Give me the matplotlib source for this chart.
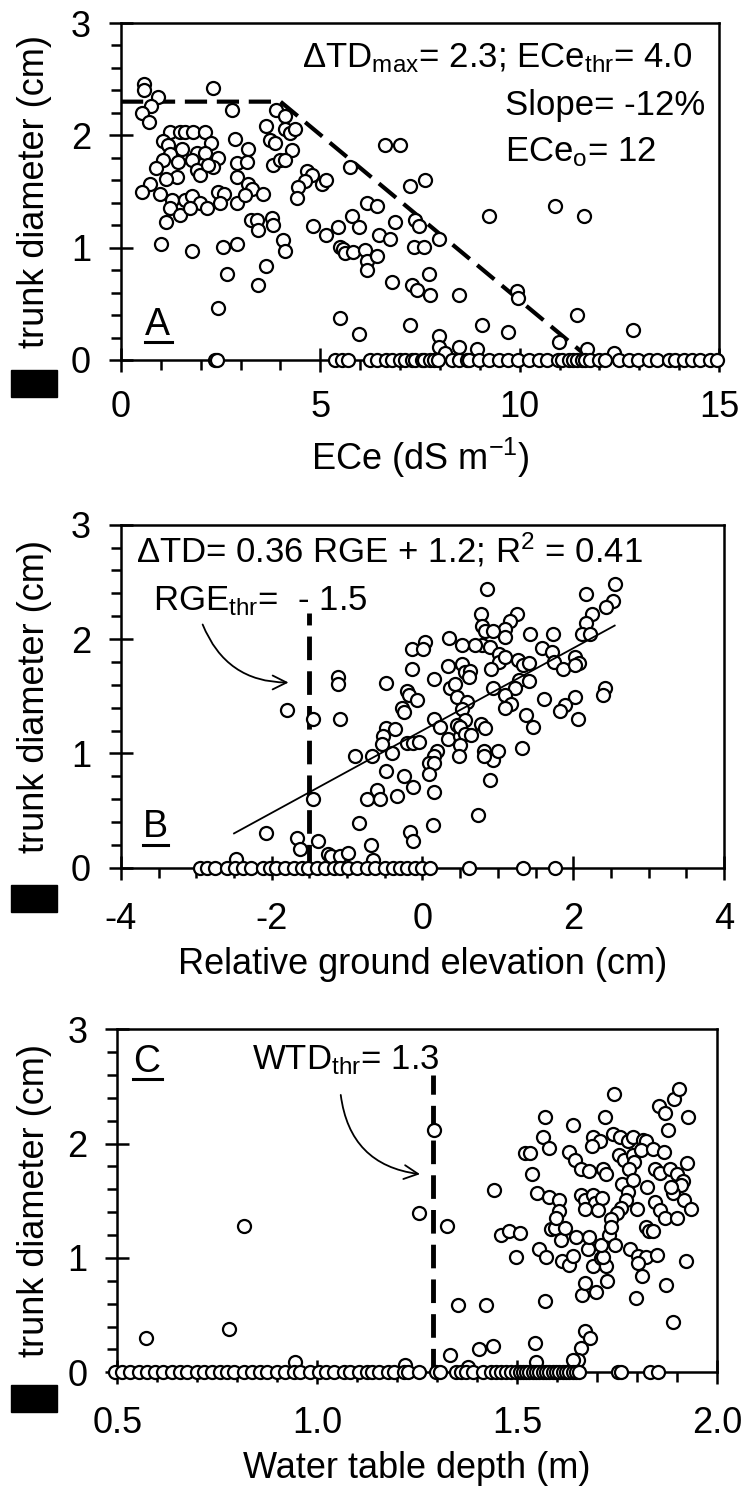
import matplotlib
matplotlib.use("Agg")
import matplotlib.pyplot as plt
from matplotlib.patches import Rectangle
from matplotlib.lines import Line2D
from matplotlib.ticker import MultipleLocator, FormatStrFormatter

plt.rcParams['font.family'] = ['Liberation Sans', 'DejaVu Sans']
plt.rcParams['mathtext.fontset'] = 'custom'
plt.rcParams['mathtext.rm'] = 'Liberation Sans'
plt.rcParams['mathtext.it'] = 'Liberation Sans:italic'
plt.rcParams['lines.scale_dashes'] = False
plt.rcParams['axes.unicode_minus'] = False

# ---- panel A: trunk diameter vs ECe ----
a_ece = [0.58, 0.58, 0.94, 0.75, 0.52, 0.70, 2.32, 2.79, 1.23, 1.48, 1.61, 1.80, 2.12,
         1.06, 1.19, 1.52, 2.25, 2.86, 3.19, 1.90, 2.11, 1.24, 1.06, 1.44, 1.77, 2.44,
         2.90, 3.15, 0.88, 1.90, 1.98, 2.32, 2.19, 1.40, 1.12, 2.90, 3.19, 3.28, 0.73, 0.52,
         0.98, 1.27, 1.23, 1.48, 1.61, 1.77, 1.97, 2.15, 1.73, 2.44, 2.58, 2.48, 2.92, 3.11,
         3.57, 1.12, 3.25, 3.40, 3.44, 3.78, 3.82, 4.06, 4.11, 1.00, 1.77, 2.55, 2.92, 2.67,
         3.63, 3.44, 2.44, 3.64, 3.74, 3.86, 3.90, 4.11, 4.11, 4.24, 4.36, 4.28, 3.82, 3.99,
         4.11, 4.66, 4.78, 4.61, 5.03, 5.14, 4.45, 4.41, 5.74, 4.82, 5.14, 5.45, 5.79, 5.97,
         6.16, 5.49, 5.58, 5.62, 5.83, 6.12, 6.16, 6.16, 5.49, 5.97, 6.63, 7.01, 7.63, 7.26,
         6.42, 6.88, 6.46, 6.76, 7.38, 7.47, 7.34, 7.59, 7.97, 6.42, 7.72, 6.80, 7.30, 7.42,
         7.76, 8.49, 9.22, 10.89, 11.62, 9.93, 9.97, 7.26, 9.05, 9.70, 11.45, 12.84, 7.97,
         7.97, 8.13, 8.49, 8.93, 10.98, 11.69, 12.36]
a_td = [2.46, 2.40, 2.34, 2.26, 2.20, 2.12, 2.42, 2.23, 2.03, 2.03, 2.03, 2.03, 2.03,
        1.95, 1.91, 1.88, 1.93, 1.97, 1.88, 1.84, 1.84, 1.83, 1.78, 1.76, 1.78, 1.80,
        1.75, 1.76, 1.71, 1.69, 1.65, 1.72, 1.74, 1.63, 1.61, 1.63, 1.57, 1.52, 1.57, 1.50,
        1.48, 1.42, 1.35, 1.29, 1.42, 1.46, 1.40, 1.35, 1.35, 1.50, 1.48, 1.40, 1.40, 1.47,
        1.48, 1.23, 1.25, 1.25, 1.16, 1.26, 1.20, 1.07, 0.97, 1.03, 0.97, 1.01, 1.03, 0.77,
        0.84, 0.67, 0.46, 2.08, 1.96, 1.93, 2.23, 2.17, 2.06, 2.02, 2.06, 1.87, 1.74, 1.78,
        1.78, 1.68, 1.65, 1.59, 1.57, 1.60, 1.54, 1.44, 1.72, 1.19, 1.11, 1.18, 1.28, 1.18,
        1.40, 1.01, 0.99, 0.95, 0.96, 0.98, 0.88, 0.80, 0.37, 0.23, 1.91, 1.91, 1.60, 1.55,
        1.37, 1.23, 1.11, 1.08, 1.25, 1.19, 1.01, 1.01, 1.08, 0.93, 0.77, 0.69, 0.67, 0.62,
        0.58, 0.58, 1.28, 1.37, 1.28, 0.61, 0.55, 0.31, 0.31, 0.25, 0.40, 0.27, 0.21,
        0.12, 0.06, 0.12, 0.10, 0.16, 0.10, 0.06]
a_ece_dead = [2.36, 2.42, 5.37, 5.54, 5.70, 6.25, 6.41, 6.66, 6.80, 7.00, 7.13, 7.29, 7.38,
              7.54, 7.59, 7.75, 7.84, 7.95, 8.30, 8.47, 8.67, 8.72, 8.97, 9.22, 9.47, 9.72,
              9.97, 10.23, 10.48, 10.68, 10.95, 11.06, 11.23, 11.35, 11.44, 11.56, 11.65,
              11.77, 11.98, 12.15, 12.48, 12.73, 12.98, 13.24, 13.44, 13.75, 13.90, 14.11,
              14.32, 14.52, 14.78, 14.95]
a_model_x = [0, 4.0, 11.8]
a_model_y = [2.3, 2.3, 0]

# ---- panel B: trunk diameter vs relative ground elevation ----
b_rge = [-1.80, -1.45, -1.10, -1.12, -1.12, -0.90, -1.45, -0.74, -0.84, -2.08, -1.67, -1.63,
         -1.38, -1.25, -1.21, -1.10, -0.99, -0.68, -2.47, -0.65,
         0.85, 2.56, 2.17, 2.53, 2.44, 2.25, 2.17, 2.11, 2.22, 0.78, 1.25, 1.16, 1.09, 1.09,
         0.79, 0.83, 0.94, 0.79, 0.70, 0.90, 1.01, 1.01, 1.10, 0.91, 1.42, 1.73, 1.58, 1.72,
         1.74, 1.86, 0.35, 0.52, 0.04, -0.14, 0.01, -0.14, 1.27, 1.34, 1.41, 1.28, 1.41, 1.23,
         1.10, 1.17, 1.10, 2.03, 2.07, 2.02, 0.94, 1.61, 2.02, 1.89, 1.83, 2.06, 2.42, 2.40,
         1.38, 1.47, 1.32, 0.34, 0.52, 0.57, 0.63, 0.62, 0.15, -0.49, 0.37, 0.43, 0.46, 0.59,
         0.52, -0.21, -0.18, -0.07, -0.27, -0.25, 0.15, 0.23, 0.34, 0.50, 0.57, 0.46, 0.50,
         0.56, 0.65, 0.50, 0.49, 0.77, 0.83, 0.81, 0.94, 1.00, 0.90, 0.81, -0.49, -0.36, -0.52,
         -0.54, -0.40, -0.67, -0.21, -0.12, -0.05, 0.19, 0.15, 0.08, 0.15, 0.08, 0.15, -0.49,
         -0.24, -0.12, -0.60, -0.56, -0.34, 0.74, 0.14, -0.16, -0.12]
b_td = [1.38, 1.30, 1.30, 1.67, 1.61, 0.98, 0.60, 0.60, 0.39, 0.30, 0.26, 0.16,
        0.23, 0.12, 0.10, 0.10, 0.13, 0.20, 0.08, 0.07,
        2.44, 2.48, 2.39, 2.33, 2.28, 2.22, 2.14, 2.04, 2.04, 2.22, 2.22, 2.16, 2.09, 2.02,
        2.11, 2.07, 2.07, 1.95, 1.95, 1.93, 1.87, 1.80, 1.84, 1.74, 2.04, 2.04, 1.92, 1.89,
        1.80, 1.74, 2.01, 1.95, 1.97, 1.91, 1.91, 1.74, 1.82, 1.77, 1.79, 1.64, 1.63, 1.57,
        1.51, 1.43, 1.40, 1.84, 1.79, 1.77, 1.57, 1.48, 1.49, 1.42, 1.37, 1.30, 1.57, 1.51,
        1.34, 1.23, 1.05, 1.76, 1.78, 1.71, 1.72, 1.67, 1.65, 1.62, 1.57, 1.61, 1.49, 1.45,
        1.39, 1.55, 1.51, 1.47, 1.40, 1.36, 1.30, 1.23, 1.13, 1.15, 1.29, 1.25, 1.23,
        1.17, 1.16, 1.07, 0.98, 1.26, 1.22, 1.02, 0.94, 1.02, 0.77, 0.98, 1.22, 1.21, 1.15,
        1.08, 1.00, 0.98, 1.09, 1.09, 1.10, 1.02, 0.98, 0.92, 0.92, 0.82, 0.66, 0.85,
        0.80, 0.71, 0.68, 0.60, 0.63, 0.46, 0.37, 0.31, 0.23]
b_rge_dead = [-2.95, -2.86, -2.75, -2.60, -2.49, -2.38, -2.27, -2.11, -2.02, -1.94, -1.82,
              -1.71, -1.60, -1.52, -1.40, -1.29, -1.18, -1.10, -0.99, -0.87, -0.74, -0.63,
              -0.50, -0.39, -0.30, -0.21, -0.10, -0.01, 0.10, 0.62, 1.33, 1.76]
b_fit_x = [-2.5, 2.55]
b_slope, b_icpt = 0.36, 1.2
b_thr = -1.5

# ---- panel C: trunk diameter vs water table depth ----
c_wtd = [0.572, 0.780, 0.818, 0.945, 1.291, 1.255, 1.324, 1.443, 1.351, 1.422, 1.333, 1.404,
         1.440, 1.219, 1.376, 1.544, 1.548, 1.569, 1.670, 1.683, 1.660, 1.652, 1.640, 1.889,
         1.797, 1.873, 1.813, 1.922, 1.663, 1.698, 1.670, 1.725, 1.498, 1.554, 1.573, 1.613,
         1.631, 1.640, 1.690, 1.709, 1.723, 1.715, 1.677, 1.648, 1.681, 1.710, 1.731, 1.744,
         1.783, 1.803, 1.822, 1.850, 1.803, 1.460, 1.479, 1.508, 1.585, 1.596, 1.610, 1.621,
         1.823, 1.830, 1.840, 1.550, 1.579, 1.604, 1.604, 1.598, 1.538, 1.519, 1.533, 1.564,
         1.581, 1.569, 1.640, 1.629, 1.644, 1.660, 1.681, 1.715, 1.723, 1.742, 1.719, 1.690,
         1.707, 1.688, 1.740, 1.757, 1.777, 1.790, 1.815, 1.823, 1.756, 1.767, 1.790, 1.792,
         1.780, 1.811, 1.840, 1.867, 1.855, 1.869, 1.893, 1.905, 1.877, 1.928, 1.924, 1.844,
         1.858, 1.882, 1.899, 1.915, 1.911, 1.763, 1.790, 1.777, 1.773, 1.761, 1.825, 1.660,
         1.671, 1.690, 1.694, 1.713, 1.669, 1.702, 1.749, 1.736, 1.734, 1.801, 1.844, 1.857,
         1.869, 1.899, 1.917, 1.936, 1.890, 1.886]
c_td = [0.30, 0.38, 1.28, 0.09, 2.12, 1.39, 1.28, 1.59, 0.59, 0.59, 0.15, 0.20,
        0.23, 0.06, 0.05, 0.26, 0.09, 0.62, 0.36, 0.30, 0.21, 0.11, 0.11, 0.44,
        0.65, 0.76, 0.84, 0.97, 0.68, 0.70, 0.78, 0.80, 1.01, 1.08, 1.01, 0.97,
        0.94, 1.02, 0.93, 1.00, 0.93, 1.01, 1.08, 1.18, 1.18, 1.11, 1.20, 1.11,
        1.08, 1.02, 1.01, 1.03, 0.96, 1.20, 1.24, 1.22, 1.25, 1.26, 1.16, 1.26,
        1.27, 1.24, 1.24, 1.57, 1.53, 1.51, 1.41, 1.35, 1.73, 1.92, 1.92, 2.06,
        1.96, 2.23, 2.16, 1.93, 1.86, 1.78, 1.76, 1.78, 1.73, 2.43, 2.23, 2.06,
        2.02, 1.98, 2.08, 2.06, 2.02, 2.06, 2.03, 2.02, 1.90, 1.86, 1.90, 1.84,
        1.78, 1.94, 1.95, 1.93, 2.33, 2.27, 2.39, 2.48, 2.12, 2.23, 1.83, 1.78,
        1.74, 1.78, 1.73, 1.67, 1.64, 1.65, 1.68, 1.58, 1.51, 1.44, 1.62, 1.55,
        1.51, 1.55, 1.48, 1.52, 1.43, 1.42, 1.39, 1.34, 1.27, 1.43, 1.49, 1.42,
        1.35, 1.35, 1.51, 1.43, 1.57, 1.62]
c_wtd_dead = [0.494, 0.511, 0.532, 0.553, 0.574, 0.594, 0.615, 0.636, 0.657, 0.674, 0.699,
              0.716, 0.737, 0.757, 0.774, 0.791, 0.816, 0.837, 0.858, 0.874, 0.900, 0.920,
              0.941, 0.958, 0.983, 1.004, 1.021, 1.041, 1.066, 1.083, 1.104, 1.125, 1.138,
              1.155, 1.176, 1.193, 1.218, 1.226, 1.255, 1.297, 1.306, 1.347, 1.360, 1.372,
              1.389, 1.414, 1.435, 1.447, 1.460, 1.472, 1.485, 1.497, 1.506, 1.514, 1.523,
              1.531, 1.539, 1.548, 1.556, 1.564, 1.573, 1.581, 1.589, 1.598, 1.606, 1.614,
              1.623, 1.631, 1.639, 1.648, 1.656, 1.752, 1.761, 1.832, 1.853]
c_thr = 1.29

FS_TICK = 26
FS_LAB = 26
FS_TXT = 25
LW = 1.8
MS = 88


def style(ax, xlim, xmaj, xmin, xpad):
    ax.set_xlim(*xlim)
    ax.set_ylim(0, 3)
    ax.xaxis.set_major_locator(MultipleLocator(xmaj))
    ax.xaxis.set_minor_locator(MultipleLocator(xmin))
    ax.yaxis.set_major_locator(MultipleLocator(1))
    ax.yaxis.set_minor_locator(MultipleLocator(0.2))
    ax.tick_params(which='major', direction='inout', length=17, width=LW,
                   labelsize=FS_TICK, color='black')
    ax.tick_params(which='minor', direction='out', length=7, width=LW)
    ax.tick_params(axis='x', which='major', pad=xpad)
    ax.tick_params(axis='y', which='major', pad=13)
    for s in ax.spines.values():
        s.set_linewidth(LW)
        s.set_zorder(1)


def dots(ax, x, y):
    ax.scatter(x, y, s=MS, facecolors='white', edgecolors='black',
               linewidths=1.6, zorder=4, clip_on=False)


def panel_letter(ax, letter, x, y, x0, x1, yu):
    ax.text(x, y, letter, transform=ax.transAxes, fontsize=27, ha='left', va='baseline')
    ax.add_line(Line2D([x0, x1], [yu, yu], transform=ax.transAxes, color='black', lw=2.2))


fig = plt.figure(figsize=(7.44, 14.95), dpi=100)

# panel A
axA = fig.add_axes([0.1626, 0.7592, 0.8038, 0.2254])
style(axA, (0, 15), 5, 1, 13)
axA.plot(a_model_x, a_model_y, color='black', lw=3, dashes=(16, 7), zorder=2)
dots(axA, a_ece, a_td)
dots(axA, a_ece_dead, [0] * len(a_ece_dead))
axA.text(4.55, 2.69, 'ΔTD$_\\mathrm{max}$= 2.3; ECe$_\\mathrm{thr}$= 4.0', fontsize=FS_TXT, va='center')
axA.text(9.62, 2.27, 'Slope= -12%', fontsize=FS_TXT, va='center')
axA.text(9.62, 1.85, 'ECe$_\\mathrm{o}$= 12', fontsize=FS_TXT, va='center')
panel_letter(axA, 'A', 0.04, 0.074, 0.04, 0.085, 0.054)
axA.set_xlabel('ECe (dS m$^{-1}$)', fontsize=FS_LAB)
axA.xaxis.set_label_coords(0.5, -0.225)
axA.set_ylabel('trunk diameter (cm)', fontsize=FS_LAB)
axA.yaxis.set_label_coords(-0.115, 0.5)

# panel B
axB = fig.add_axes([0.1626, 0.4196, 0.8105, 0.2294])
style(axB, (-4, 4), 2, 0.5, 16)
axB.plot([b_thr, b_thr], [0, 2.23], color='black', lw=3.5, dashes=(17, 8), zorder=2)
axB.plot(b_fit_x, [b_slope * v + b_icpt for v in b_fit_x], color='black', lw=1.3, zorder=5)
dots(axB, b_rge, b_td)
dots(axB, b_rge_dead, [0] * len(b_rge_dead))
axB.text(-3.80, 2.78, 'ΔTD= 0.36 RGE + 1.2; R$^2$ = 0.41', fontsize=FS_TXT, va='center')
axB.text(-3.58, 2.33, 'RGE$_\\mathrm{thr}$=  - 1.5', fontsize=FS_TXT, va='center')
axB.annotate('', xy=(-1.74, 1.62), xytext=(-2.93, 2.15),
             arrowprops=dict(arrowstyle='->', lw=1.3, color='black',
                             connectionstyle='arc3,rad=0.35', mutation_scale=25))
panel_letter(axB, 'B', 0.036, 0.09, 0.036, 0.078, 0.066)
axB.set_xlabel('Relative ground elevation (cm)', fontsize=FS_LAB)
axB.xaxis.set_label_coords(0.5, -0.23)
axB.set_ylabel('trunk diameter (cm)', fontsize=FS_LAB)
axB.yaxis.set_label_coords(-0.114, 0.5)

# panel C
axC = fig.add_axes([0.1577, 0.0821, 0.806, 0.2294])
style(axC, (0.5, 2.0), 0.5, 0.1, 16)
axC.xaxis.set_major_formatter(FormatStrFormatter('%.1f'))
axC.plot([c_thr, c_thr], [0, 2.6], color='black', lw=3.5, dashes=(17, 8), zorder=2)
dots(axC, c_wtd, c_td)
dots(axC, c_wtd_dead, [0] * len(c_wtd_dead))
axC.text(0.837, 2.73, 'WTD$_\\mathrm{thr}$= 1.3', fontsize=FS_TXT, va='center')
axC.annotate('', xy=(1.264, 1.73), xytext=(1.058, 2.45),
             arrowprops=dict(arrowstyle='->', lw=1.3, color='black',
                             connectionstyle='arc3,rad=0.4', mutation_scale=25))
panel_letter(axC, 'C', 0.026, 0.876, 0.026, 0.074, 0.854)
axC.set_xlabel('Water table depth (m)', fontsize=FS_LAB)
axC.xaxis.set_label_coords(0.5, -0.23)
axC.set_ylabel('trunk diameter (cm)', fontsize=FS_LAB)
axC.yaxis.set_label_coords(-0.109, 0.5)

# black blocks at the lower-left of each panel
for top in (370, 885, 1385):
    fig.add_artist(Rectangle((11 / 744, 1 - (top + 27) / 1495), 46 / 744, 27 / 1495,
                             transform=fig.transFigure, color='black'))

fig.savefig('out.png', dpi=100)
